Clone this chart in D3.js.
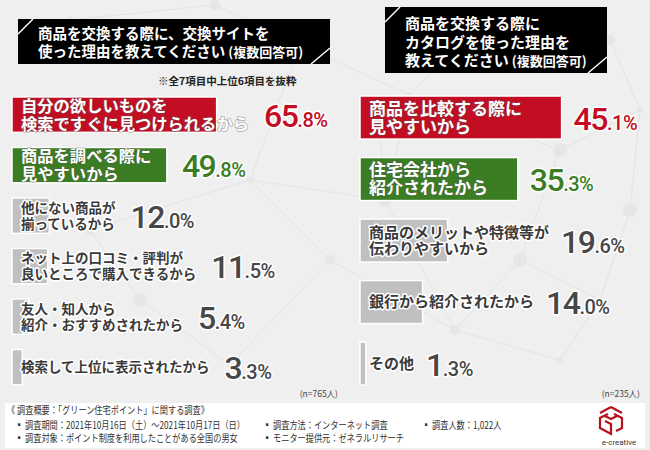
<!DOCTYPE html>
<html>
<head>
<meta charset="utf-8">
<script src="https://cdn.jsdelivr.net/npm/d3@7"></script>
<style>
  body { margin: 0; background: #efefef; }
  svg { display: block; }
  .jp { font-family: "Noto Sans CJK JP", "Noto Sans", sans-serif; }
  .num { font-family: Roboto, "Liberation Sans", sans-serif; }
</style>
</head>
<body>
<script>
var w = 650;
var h = 450;

// left question (exchange site)
var leftLabels = ["自分の欲しいものを\n検索ですぐに見つけられるから", "商品を調べる際に\n見やすいから", "他にない商品が\n揃っているから",
  "ネット上の口コミ・評判が\n良いところで購入できるから", "友人・知人から\n紹介・おすすめされたから", "検索して上位に表示されたから"];
var leftValues = [65.8, 49.8, 12.0, 11.5, 5.4, 3.3];

// right question (catalog)
var rightLabels = ["商品を比較する際に\n見やすいから", "住宅会社から\n紹介されたから", "商品のメリットや特徴等が\n伝わりやすいから",
  "銀行から紹介されたから", "その他"];
var rightValues = [45.1, 35.3, 19.6, 14.0, 1.3];

var leftTitle = ["商品を交換する際に、交換サイトを", "使った理由を教えてください"];
var rightTitle = ["商品を交換する際に", "カタログを使った理由を", "教えてください"];

var rankColors = ["#c30d23", "#3a7d22"];
var grayBar = "#c0c0c0";

var svg = d3.select("body").append("svg")
  .attr("width", w)
  .attr("height", h);

svg.append("rect").attr("width", w).attr("height", h).attr("fill", "#efefef");

// faint network texture in the background
var bgNodes = [[70,20],[215,5],[300,45],[410,95],[470,30],[560,150],[640,110],[610,40],[520,260],[600,300],[455,330],[385,200],[250,180],[330,260],[140,300],[230,365],[90,230],[630,210],[560,360],[380,130]];
var bgLinks = [[0,1],[1,2],[2,3],[3,4],[4,7],[7,6],[6,5],[5,3],[5,8],[8,9],[9,17],[17,6],[8,10],[10,11],[11,3],[11,12],[12,2],[12,13],[13,10],[13,15],[15,14],[14,16],[16,12],[9,18],[18,10],[19,3],[19,11]];
var bg = svg.append("g");
bg.selectAll("line").data(bgLinks).enter().append("line")
  .attr("x1", function(d) { return bgNodes[d[0]][0]; })
  .attr("y1", function(d) { return bgNodes[d[0]][1]; })
  .attr("x2", function(d) { return bgNodes[d[1]][0]; })
  .attr("y2", function(d) { return bgNodes[d[1]][1]; })
  .attr("stroke", "#e3e3e3").attr("stroke-width", 1);
bg.selectAll("circle").data(bgNodes).enter().append("circle")
  .attr("cx", function(d) { return d[0]; })
  .attr("cy", function(d) { return d[1]; })
  .attr("r", function(d, i) { return 3 + (i % 3) * 2; })
  .attr("fill", "#e6e6e6");

// title boxes
function titleBox(x0, y0, x1, y1, lines, tx, ty, lh, fs) {
  var g = svg.append("g").attr("class", "jp");
  g.append("rect").attr("x", x0).attr("y", y0).attr("width", x1 - x0).attr("height", y1 - y0).attr("fill", "#000");
  g.append("line").attr("x1", x0).attr("y1", y0 + 15).attr("x2", x0 + 15).attr("y2", y0)
    .attr("stroke", "#fff").attr("stroke-width", 1.5);
  g.append("line").attr("x1", x1 - 19).attr("y1", y1).attr("x2", x1).attr("y2", y1 - 16)
    .attr("stroke", "#fff").attr("stroke-width", 1.5);
  var t = g.append("text").attr("fill", "#fff").attr("font-weight", 700).attr("font-size", fs);
  lines.forEach(function(l, i) {
    t.append("tspan").attr("x", tx).attr("y", ty + i * lh).text(l);
    if (i == lines.length - 1) {
      t.append("tspan").attr("font-size", 13).text(" (複数回答可)");
    }
  });
}
titleBox(18, 19, 330, 64, leftTitle, 38, 38.5, 18, 14.5);
titleBox(385, 7, 607, 73, rightTitle, 405, 29, 18.5, 15);

svg.append("text").attr("class", "jp")
  .attr("x", 158).attr("y", 85)
  .attr("font-size", 10.5).attr("font-weight", 700).attr("fill", "#222")
  .text("※全7項目中上位6項目を抜粋");

function panel(labels, values, x0, xRange, yRange, fsColor, fsGray, gap) {
  var x = d3.scaleLinear().domain([0, 100]).range([0, xRange]);
  var y = d3.scaleBand().domain(labels).range(yRange).paddingInner(0.3).paddingOuter(0.15);
  var g = svg.append("g");

  var item = g.selectAll("g.item").data(labels).enter().append("g").attr("class", "item");

  item.append("rect")
    .attr("x", x0)
    .attr("y", function(d) { return y(d); })
    .attr("width", function(d, i) { return x(values[i]); })
    .attr("height", y.bandwidth())
    .attr("fill", function(d, i) { return i < 2 ? rankColors[i] : grayBar; })
    .attr("stroke", "#fff").attr("stroke-width", 1.5);

  item.each(function(d, i) {
    var sel = d3.select(this);
    var lines = d.split("\n");
    var colored = i < 2;
    var fs = colored ? fsColor : fsGray;
    var lh = colored ? 18 : 16;
    var cy = y(d) + y.bandwidth() / 2;
    var maxW = 0;
    // one text per line
    lines.forEach(function(l, k) {
      var t = sel.append("text").attr("class", "jp")
        .attr("x", x0 + 9)
        .attr("y", cy + (k - (lines.length - 1) / 2) * lh + fs * 0.36)
        .attr("font-size", fs).attr("font-weight", 700)
        .attr("fill", colored ? "#fff" : "#3a3a3a")
        .attr("stroke", colored ? "rgba(90,90,90,0.45)" : "#fff")
        .attr("stroke-width", colored ? 1.6 : 3)
        .attr("paint-order", "stroke")
        .attr("stroke-linejoin", "round")
        .text(l);
      maxW = Math.max(maxW, t.node().getComputedTextLength());
    });
    var vx = Math.max(x0 + x(values[i]), x0 + 9 + maxW) + gap;
    var parts = values[i].toFixed(1).split(".");
    var v = sel.append("text").attr("class", "num")
      .attr("x", vx).attr("y", cy + 12)
      .attr("fill", colored ? rankColors[i] : "#474747")
      .attr("font-weight", 500)
      .attr("stroke", "#fff").attr("stroke-width", 3)
      .attr("paint-order", "stroke").attr("stroke-linejoin", "round");
    v.append("tspan").attr("font-size", 32).attr("letter-spacing", -1.5).text(parts[0]);
    v.append("tspan").attr("font-size", 20).attr("letter-spacing", -0.5).text("." + parts[1] + "%");
  });
}

panel(leftLabels, leftValues, 12, 311, [89.4, 392.4], 16.3, 13.5, 15);
panel(rightLabels, rightValues, 360, 447, [86.8, 394.3], 17, 15, 12);

svg.append("text").attr("class", "jp").attr("x", 338).attr("y", 397)
  .attr("text-anchor", "end").attr("font-size", 8.5).attr("fill", "#444").text("(n=765人)");
svg.append("text").attr("class", "jp").attr("x", 640).attr("y", 397)
  .attr("text-anchor", "end").attr("font-size", 8.5).attr("fill", "#444").text("(n=235人)");

// footer
var footer = [
  [7, 414, "《 調査概要：「グリーン住宅ポイント」に関する調査》"],
  [15, 429, "▪ 調査期間：2021年10月16日（土）～2021年10月17日（日）"],
  [263, 429, "▪ 調査方法：インターネット調査"],
  [422, 429, "▪ 調査人数：1,022人"],
  [15, 442, "▪ 調査対象：ポイント制度を利用したことがある全国の男女"],
  [263, 442, "▪ モニター提供元：ゼネラルリサーチ"]
];
svg.append("rect").attr("x", 5).attr("y", 403).attr("width", 640).attr("height", 45).attr("fill", "#fff");
svg.selectAll("text.foot").data(footer).enter().append("text")
  .attr("class", "foot jp")
  .attr("transform", function(d) { return "translate(" + d[0] + "," + d[1] + ") scale(0.82,1)"; })
  .attr("font-size", 10).attr("fill", "#333")
  .text(function(d) { return d[2]; });

// logo
var logo = svg.append("g").attr("transform", "translate(611,420)");
logo.append("path")
  .attr("d", "M-3,-6 L-11,-2 L-11,8 L0,14 L0,4 L-6,1 M3,-6 L11,-2 L11,8 L5,11 M0,-13 L-11,-7 M0,-13 L11,-7 M-6,-4 L0,-1 L6,-4")
  .attr("fill", "none").attr("stroke", "#b5121b").attr("stroke-width", 2.2).attr("stroke-linejoin", "miter");
svg.append("text").attr("class", "num").attr("x", 619).attr("y", 445)
  .attr("text-anchor", "middle").attr("font-size", 8).attr("fill", "#333").text("e-creative");
</script>
</body>
</html>
